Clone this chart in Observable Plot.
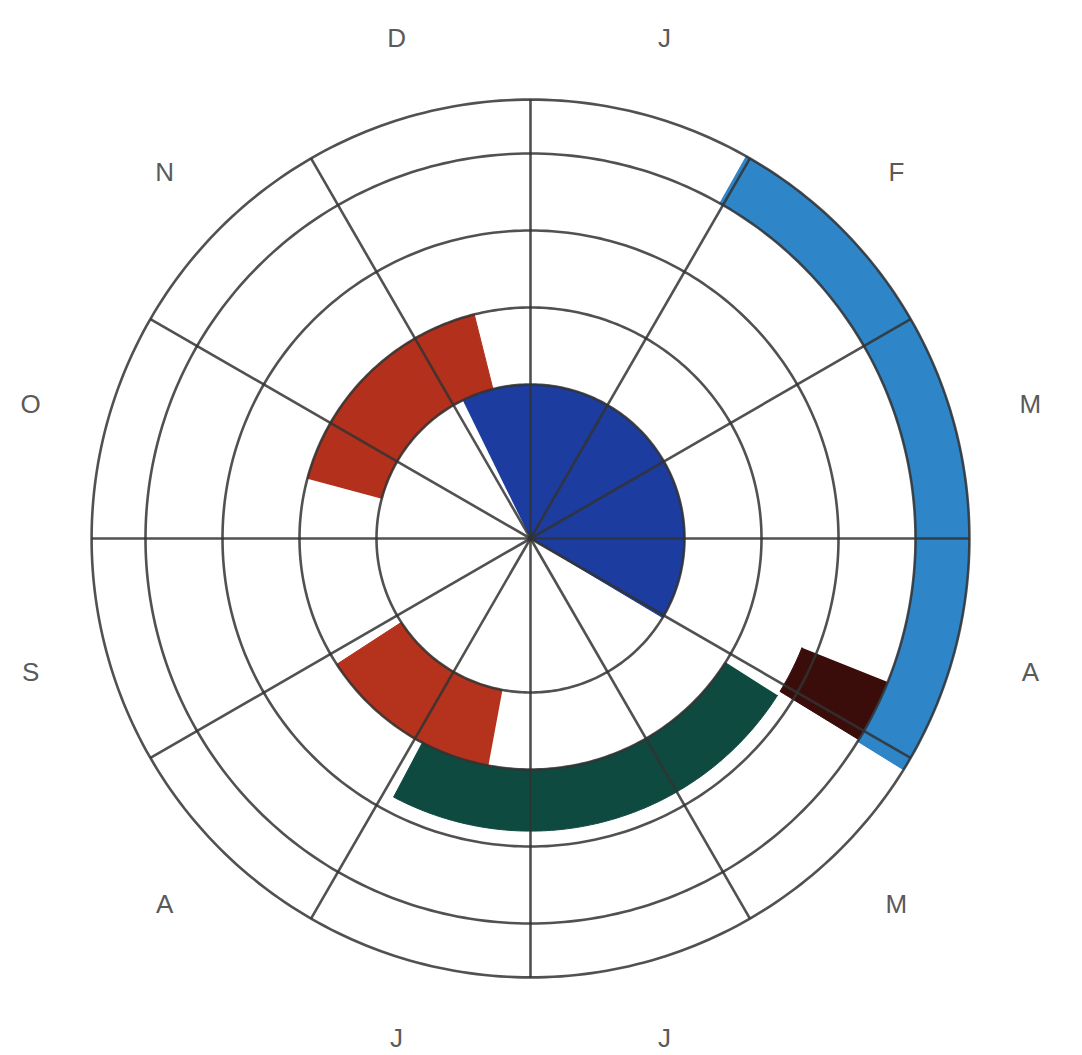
<!DOCTYPE html>
<html>
<head>
<meta charset="utf-8">
<script src="https://cdn.jsdelivr.net/npm/d3@7"></script>
<script src="https://cdn.jsdelivr.net/npm/@observablehq/plot@0.6"></script>
<style>
  html, body { margin: 0; padding: 0; background: #ffffff; }
  #chart { width: 1082px; height: 1055px; }
</style>
</head>
<body>
<div id="chart"></div>
<script>
// ---- data -------------------------------------------------------------
// months, clockwise from the top (January starts at 12 o'clock)
const months = ["J", "F", "M", "A", "M", "J", "J", "A", "S", "O", "N", "D"];
// radial ring boundaries (in ring units)
const ringEdges = [2, 3, 4, 5, 5.7];
// coloured bands: start / end in months (0 = 1 Jan), inner / outer radius
const bandNames  = ["dark blue", "red (autumn)", "red (summer)", "green", "brown", "light blue"];
const bandStart  = [-0.87, 9.5, 6.35, 4.08, 3.73, 0.98];
const bandEnd    = [4.03, 11.53, 7.9, 6.93, 4.05, 4.06];
const bandInner  = [0, 2, 2, 3, 3.8, 5];
const bandOuter  = [2, 3, 3, 3.8, 5, 5.7];
const bandColors = ["#1c3c9f", "#b3301c", "#b5321d", "#0e4a40", "#3a0d0b", "#2e86c8"];

// ---- polar helpers ----------------------------------------------------
const toRad = deg => deg * Math.PI / 180;
const px = (r, deg) => r * Math.sin(toRad(deg));
const py = (r, deg) => r * Math.cos(toRad(deg));
const outerR = ringEdges[ringEdges.length - 1];
const labelR = 6.72;

// band polygons (sampled arcs)
const bandRows = [];
bandNames.forEach((name, i) => {
  const a0 = bandStart[i] * 30, a1 = bandEnd[i] * 30;
  const n = Math.max(2, Math.ceil((a1 - a0) / 0.5));
  for (let k = 0; k <= n; k++) {
    const a = a0 + (a1 - a0) * k / n;
    bandRows.push({band: name, x: px(bandOuter[i], a), y: py(bandOuter[i], a)});
  }
  for (let k = n; k >= 0; k--) {
    const a = a0 + (a1 - a0) * k / n;
    bandRows.push({band: name, x: px(bandInner[i], a), y: py(bandInner[i], a)});
  }
});

// grid circles
const circleRows = [];
ringEdges.forEach(r => {
  for (let a = 0; a <= 360; a += 1) circleRows.push({level: r, x: px(r, a), y: py(r, a)});
});

// spokes at month boundaries
const spokeAngles = months.map((m, i) => i * 30);

const unit = 77;
const chart = Plot.plot({
  width: 1082,
  height: 1055,
  margin: 0,
  style: {background: "#ffffff", fontFamily: "'Liberation Sans', Arial, sans-serif"},
  x: {domain: [-530 / unit, 552 / unit], axis: null},
  y: {domain: [-517 / unit, 538 / unit], axis: null},
  color: {domain: bandNames, range: bandColors},
  marks: [
    Plot.line(bandRows, {x: "x", y: "y", z: "band", fill: "band", stroke: "band", strokeWidth: 1}),
    Plot.line(circleRows, {x: "x", y: "y", z: "level", stroke: "#333333", strokeOpacity: 0.85, strokeWidth: 2.6}),
    Plot.link(spokeAngles, {
      x1: () => 0, y1: () => 0,
      x2: a => px(outerR, a), y2: a => py(outerR, a),
      stroke: "#333333", strokeOpacity: 0.85, strokeWidth: 2.6
    }),
    Plot.text(months, {
      x: (d, i) => px(labelR, i * 30 + 15),
      y: (d, i) => py(labelR, i * 30 + 15),
      text: d => d,
      fontSize: 26,
      fill: "#5a5a5a",
      textAnchor: "middle",
      lineAnchor: "middle"
    })
  ]
});
document.getElementById("chart").append(chart);
</script>
</body>
</html>
